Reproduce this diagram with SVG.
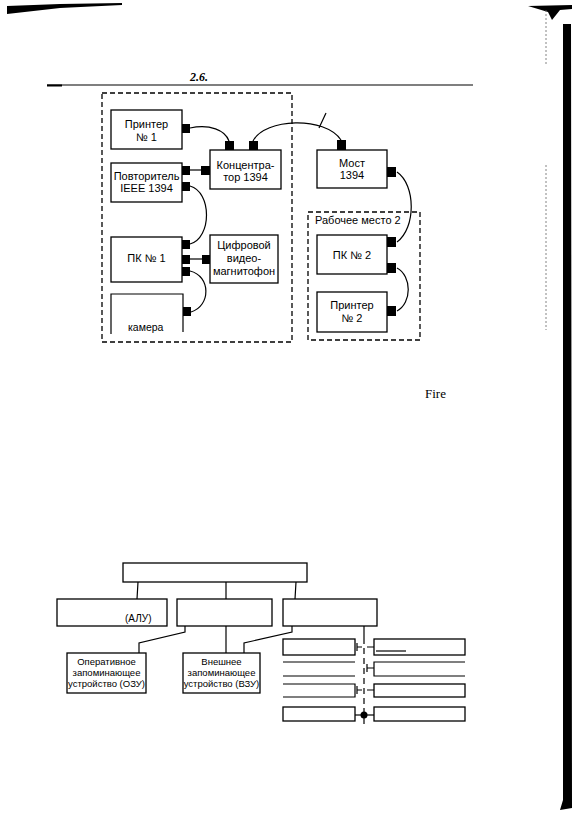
<svg xmlns="http://www.w3.org/2000/svg" width="576" height="829" viewBox="0 0 576 829">
<style>
.bx{fill:#fff;stroke:#000;stroke-width:1.3}
.ln{fill:none;stroke:#000;stroke-width:1.2}
.ds{fill:none;stroke:#000;stroke-width:1.3;stroke-dasharray:5 3}
.pt{fill:#000}
.t{font-family:"Liberation Sans",Arial,sans-serif;font-size:11px;fill:#000;text-anchor:middle}
.ts{font-family:"Liberation Sans",Arial,sans-serif;font-size:9.5px;fill:#000;text-anchor:middle}
</style>
<rect width="576" height="829" fill="#fff"/>
<g id="scan-edges">
<path d="M7,6 L60,4 L122,3 L122,5 L60,8 L7,14 Z" fill="#000"/>
<path d="M528,6 L572,5 L572,9 L560,10 L552,20 L548,12 Z" fill="#000"/>
<path d="M563,24 L571,24 L572,808 L560,810 L563,800 Z" fill="#000"/>
<path d="M546,10 V65 M546,165 V330" stroke="#666" stroke-width="0.8" stroke-dasharray="2 2" fill="none"/>
</g>
<g id="header">
<text x="190" y="81" font-family="Liberation Serif,serif" font-size="12" font-weight="bold" font-style="italic">2.6.</text>
<path d="M47,85 H473" stroke="#000" stroke-width="1.2"/>
<path d="M47,85.5 H62" stroke="#000" stroke-width="2"/>
</g>
<g id="groups">
<rect class="ds" x="102" y="93" width="190" height="249"/>
<rect class="ds" x="308" y="212" width="112" height="128"/>
<text x="315" y="224" font-family="Liberation Sans,Arial,sans-serif" font-size="11">Рабочее место 2</text>
</g>
<g id="connectors">
<path class="ln" d="M190,128 C210,124 225,130 229,141"/>
<path class="ln" d="M253,141 C265,118 325,116 341,140"/>
<path class="ln" d="M319,128 L326,113"/>
<path class="ln" d="M190,170 H201"/>
<path class="ln" d="M190,186 C212,192 212,238 190,244"/>
<path class="ln" d="M190,259 H202"/>
<path class="ln" d="M190,271 C211,276 211,306 191,312"/>
<path class="ln" d="M397,172 C416,185 416,228 397,242"/>
<path class="ln" d="M397,268 C412,276 412,303 397,311"/>
</g>
<g id="printer1">
<rect class="bx" x="111" y="110" width="71" height="39"/>
<rect class="pt" x="182" y="124" width="8" height="9"/>
<text class="t" x="146.5" y="128">Принтер</text>
<text class="t" x="146.5" y="141">№ 1</text>
</g>
<g id="concentrator">
<rect class="bx" x="210" y="150" width="71" height="39"/>
<rect class="pt" x="225" y="141" width="9" height="9"/>
<rect class="pt" x="249" y="141" width="9" height="9"/>
<rect class="pt" x="201" y="166" width="9" height="9"/>
<text class="t" x="245.5" y="169">Концентра-</text>
<text class="t" x="245.5" y="181">тор 1394</text>
</g>
<g id="repeater">
<rect class="bx" x="111" y="163" width="71" height="39"/>
<rect class="pt" x="182" y="166" width="8" height="9"/>
<rect class="pt" x="182" y="182" width="8" height="9"/>
<text class="t" x="146.5" y="180">Повторитель</text>
<text class="t" x="146.5" y="192">IEEE 1394</text>
</g>
<g id="pc1">
<rect class="bx" x="111" y="237" width="71" height="45"/>
<rect class="pt" x="182" y="240" width="8" height="9"/>
<rect class="pt" x="182" y="255" width="8" height="9"/>
<rect class="pt" x="182" y="267" width="8" height="9"/>
<text class="t" x="146.5" y="262">ПК № 1</text>
</g>
<g id="recorder">
<rect class="bx" x="210" y="235" width="68" height="48"/>
<rect class="pt" x="202" y="255" width="8" height="9"/>
<text class="t" x="244" y="249">Цифровой</text>
<text class="t" x="244" y="262">видео-</text>
<text class="t" x="244" y="275">магнитофон</text>
</g>
<g id="camera">
<path class="ln" d="M111,334 V294 H183 V332" stroke-width="1.3"/>
<rect class="pt" x="183" y="307" width="8" height="9"/>
<text x="128" y="331" font-family="Liberation Sans,Arial,sans-serif" font-size="10.5">камера</text>
</g>
<g id="bridge">
<rect class="bx" x="317" y="150" width="70" height="38"/>
<rect class="pt" x="337" y="140" width="9" height="10"/>
<rect class="pt" x="387" y="167" width="9" height="10"/>
<text class="t" x="352" y="167">Мост</text>
<text class="t" x="352" y="179">1394</text>
</g>
<g id="pc2">
<rect class="bx" x="317" y="235" width="70" height="39"/>
<rect class="pt" x="387" y="237" width="9" height="10"/>
<rect class="pt" x="387" y="263" width="9" height="10"/>
<text class="t" x="352" y="259">ПК № 2</text>
</g>
<g id="printer2">
<rect class="bx" x="317" y="292" width="70" height="40"/>
<rect class="pt" x="387" y="306" width="9" height="10"/>
<text class="t" x="352" y="309">Принтер</text>
<text class="t" x="352" y="322">№ 2</text>
</g>
<text x="425" y="398" font-family="Liberation Serif,serif" font-size="13">Fire</text>
<g id="tree-connectors">
<path class="ln" d="M138,582 L137,599 M226,582 V599 M296,582 L295,599"/>
<path class="ln" d="M185,626 V632 L139,643 V653"/>
<path class="ln" d="M226,626 V653"/>
<path class="ln" d="M292,626 V632 L244,643 V653"/>
<path class="ln" d="M364,626 V638"/>
<path class="ln" d="M364,638 V728" stroke-dasharray="6 4"/>
<path class="ln" d="M357,643 V651 M357,647 H362 M367,647 H374"/>
<path class="ln" d="M367,664 V672 M367,668 H374"/>
<path class="ln" d="M357,686 V694 M357,690 H362 M367,690 H374"/>
<path class="ln" d="M355,715 H374"/>
<circle cx="364" cy="715" r="3.5" fill="#000"/>
</g>
<g id="top-box"><rect class="bx" x="123" y="563" width="184" height="19"/></g>
<g id="alu"><rect class="bx" x="57" y="599" width="110" height="27"/><text x="125" y="622" font-family="Liberation Sans,Arial,sans-serif" font-size="10">(АЛУ)</text></g>
<g id="box-b"><rect class="bx" x="177" y="599" width="95" height="27"/></g>
<g id="box-c"><rect class="bx" x="283" y="599" width="94" height="27"/></g>
<g id="ozu">
<rect class="bx" x="67" y="653" width="79" height="40"/>
<text class="ts" x="106.5" y="665">Оперативное</text>
<text class="ts" x="106.5" y="676">запоминающее</text>
<text class="ts" x="106.5" y="687">устройство (ОЗУ)</text>
</g>
<g id="vzu">
<rect class="bx" x="183" y="653" width="77" height="40"/>
<text class="ts" x="221.5" y="665">Внешнее</text>
<text class="ts" x="221.5" y="676">запоминающее</text>
<text class="ts" x="221.5" y="687">устройство (ВЗУ)</text>
</g>
<g id="rows">
<rect class="bx" x="283" y="639" width="72" height="16"/>
<rect class="bx" x="374" y="639" width="91" height="16"/>
<path class="ln" d="M376,651 H406"/>
<path class="ln" d="M283,662 H355 M283,676 H355 M465,662 H374 V676 H465"/>
<path class="ln" d="M283,684 H355 V697 H283" stroke-width="1.3"/>
<rect class="bx" x="374" y="684" width="91" height="13"/>
<rect class="bx" x="283" y="707" width="72" height="14"/>
<rect class="bx" x="374" y="707" width="91" height="14"/>
</g>
</svg>
